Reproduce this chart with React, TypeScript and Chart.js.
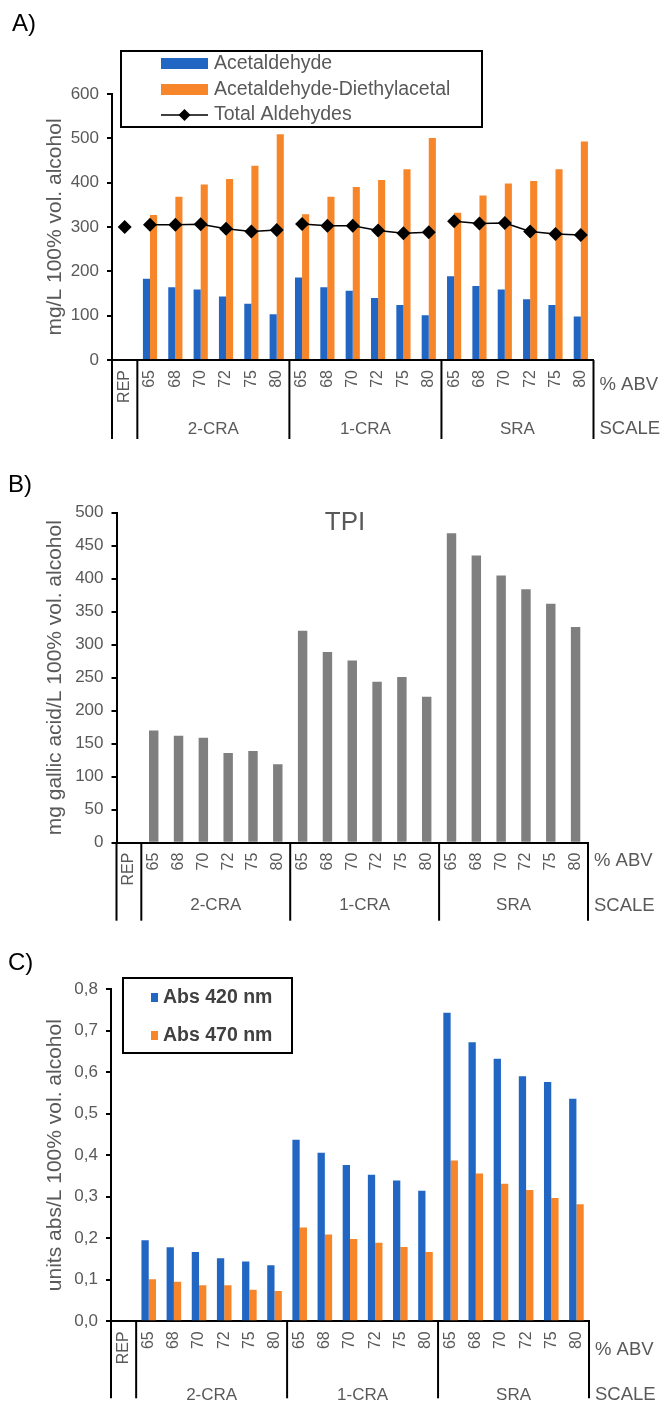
import React, { useEffect, useRef } from 'react';
import { Chart, registerables } from 'chart.js';

Chart.register(...registerables);

const FONT = '"Liberation Sans", Arial, Helvetica, sans-serif';
const GRAY = '#595959';
const BLUE = '#2266C4';
const ORANGE = '#F7862A';
const BAR_GRAY = '#7F7F7F';

// ---------- data ----------
const abvLabels = ['REP', '65', '68', '70', '72', '75', '80', '65', '68', '70', '72', '75', '80', '65', '68', '70', '72', '75', '80'];
const scaleGroups = ['2-CRA', '1-CRA', 'SRA'];
const groupEnds = [0, 6, 12]; // last category index before each group boundary
const abvTitle = '% ABV';
const scaleTitle = 'SCALE';

// A) aldehydes (mg/L 100% vol. alcohol)
const acetaldehyde = [null, 183, 164, 159, 143, 127, 103, 186, 164, 156, 140, 124, 101, 189, 167, 159, 137, 124, 98];
const diethylacetal = [null, 327, 368, 396, 408, 438, 509, 329, 368, 390, 406, 430, 501, 332, 371, 398, 404, 430, 493];
const totalAldehydes = [300, 305, 305, 306, 296, 290, 293, 307, 303, 303, 292, 286, 288, 313, 308, 309, 290, 284, 282];

// B) TPI (mg gallic acid/L 100% vol. alcohol)
const tpi = [null, 170, 162, 159, 136, 139, 119, 321, 289, 276, 244, 251, 221, 469, 435, 405, 384, 362, 327];

// C) absorbance (units abs/L 100% vol. alcohol)
const abs420 = [null, 0.195, 0.178, 0.167, 0.152, 0.144, 0.135, 0.437, 0.406, 0.376, 0.353, 0.339, 0.314, 0.743, 0.672, 0.632, 0.59, 0.576, 0.536];
const abs470 = [null, 0.101, 0.095, 0.087, 0.087, 0.076, 0.073, 0.226, 0.209, 0.198, 0.189, 0.179, 0.167, 0.387, 0.356, 0.331, 0.316, 0.297, 0.282];

const XH = 80;

type Panel = {
  canvasTop: number; height: number;
  left: number; right: number; top: number; bottom: number;
  sepLen: number; abvDy: number; scaleDy: number;
  letter: string; letterX: number; letterY: number;
};

function decorPlugin(p: Panel, extra?: (chart: any, ctx: CanvasRenderingContext2D) => void) {
  return {
    id: 'decor' + p.letter.charAt(0),
    afterDraw(chart: any) {
      const ctx: CanvasRenderingContext2D = chart.ctx;
      const xs = chart.scales.x;
      const area = chart.chartArea;
      const b = area.bottom;
      const half = (xs.getPixelForValue(1) - xs.getPixelForValue(0)) / 2;
      const seps = [area.left, ...groupEnds.map((i) => xs.getPixelForValue(i) + half), area.right];
      ctx.save();
      ctx.strokeStyle = '#000';
      ctx.lineWidth = 2;
      seps.forEach((sx) => {
        ctx.beginPath();
        ctx.moveTo(sx, b);
        ctx.lineTo(sx, b + p.sepLen);
        ctx.stroke();
      });
      ctx.fillStyle = GRAY;
      ctx.font = `17px ${FONT}`;
      ctx.textAlign = 'center';
      ctx.textBaseline = 'middle';
      scaleGroups.forEach((g, i) => ctx.fillText(g, (seps[i + 1] + seps[i + 2]) / 2, b + p.scaleDy));
      ctx.textAlign = 'left';
      ctx.font = `18.5px ${FONT}`;
      ctx.fillText(abvTitle, area.right + 6, b + p.abvDy);
      ctx.fillText(scaleTitle, area.right + 6, b + p.scaleDy);
      ctx.fillStyle = '#000';
      ctx.font = `24px ${FONT}`;
      ctx.fillText(p.letter, p.letterX, p.letterY - p.canvasTop);
      if (extra) extra(chart, ctx);
      ctx.restore();
    },
  };
}

function yAxis(p: Panel, max: number, step: number, title: string, fmt?: (v: number) => string) {
  return {
    min: 0,
    max,
    ticks: {
      stepSize: step,
      color: GRAY,
      padding: 8,
      font: { family: FONT, size: 17 },
      callback: fmt ? (v: any) => fmt(Number(v)) : undefined,
    },
    grid: { display: true, drawOnChartArea: false, drawTicks: true, tickLength: 5, tickWidth: 2, tickColor: '#000', lineWidth: 2, color: '#000' },
    border: { display: true, color: '#000', width: 2 },
    title: { display: true, text: title, color: GRAY, font: { family: FONT, size: 21 }, padding: { top: 43, bottom: 0 } },
    afterFit: (s: any) => { s.width = p.left; },
  };
}

function xAxis() {
  return {
    type: 'category',
    offset: true,
    grid: { display: false, drawTicks: false },
    border: { display: true, color: '#000', width: 2 },
    ticks: { autoSkip: false, minRotation: 90, maxRotation: 90, padding: 10, color: GRAY, font: { family: FONT, size: 16 } },
    afterFit: (s: any) => { s.height = XH; },
  };
}

function layout(p: Panel) {
  return {
    padding: {
      left: 0,
      right: 664 - p.right,
      top: p.top - p.canvasTop,
      bottom: p.canvasTop + p.height - p.bottom - XH,
    },
  };
}

const panelA: Panel = { canvasTop: 0, height: 445, left: 112, right: 593.5, top: 94, bottom: 360, sepLen: 79, abvDy: 25, scaleDy: 69, letter: 'A)', letterX: 12, letterY: 24 };
const panelB: Panel = { canvasTop: 445, height: 490, left: 116.5, right: 588, top: 512.7, bottom: 842.7, sepLen: 78, abvDy: 18, scaleDy: 63, letter: 'B)', letterX: 8, letterY: 485 };
const panelC: Panel = { canvasTop: 935, height: 470, left: 111, right: 589, top: 989, bottom: 1321.3, sepLen: 77, abvDy: 29, scaleDy: 74, letter: 'C)', letterX: 8, letterY: 963 };

function configA(): any {
  const p = panelA;
  return {
    type: 'bar',
    data: {
      labels: abvLabels,
      datasets: [
        {
          type: 'line', label: 'Total Aldehydes', data: totalAldehydes, order: 0,
          borderColor: '#000', borderWidth: 1.5, backgroundColor: '#000',
          pointStyle: 'rectRot', pointRadius: 7, pointBorderWidth: 0, pointBackgroundColor: '#000',
          segment: { borderColor: (c: any) => (groupEnds.includes(c.p0DataIndex) ? 'rgba(0,0,0,0)' : '#000') },
        },
        { label: 'Acetaldehyde', data: acetaldehyde, backgroundColor: BLUE, order: 1, categoryPercentage: 0.56, barPercentage: 1 },
        { label: 'Acetaldehyde-Diethylacetal', data: diethylacetal, backgroundColor: ORANGE, order: 1, categoryPercentage: 0.56, barPercentage: 1 },
      ],
    },
    options: {
      responsive: false,
      animation: false,
      layout: layout(p),
      plugins: { legend: { display: false }, tooltip: { enabled: false } },
      scales: { x: xAxis(), y: yAxis(p, 600, 100, 'mg/L 100% vol. alcohol') },
    },
    plugins: [
      decorPlugin(p, (chart, ctx) => {
        const ds = chart.data.datasets;
        ctx.fillStyle = '#fff';
        ctx.fillRect(121, 51, 361, 76);
        ctx.strokeStyle = '#000';
        ctx.lineWidth = 2;
        ctx.strokeRect(121, 51, 361, 76);
        ctx.font = `19.5px ${FONT}`;
        ctx.textAlign = 'left';
        ctx.textBaseline = 'middle';
        ctx.fillStyle = ds[1].backgroundColor;
        ctx.fillRect(161, 58, 47, 11);
        ctx.fillStyle = ds[2].backgroundColor;
        ctx.fillRect(161, 84, 47, 11);
        ctx.strokeStyle = '#000';
        ctx.lineWidth = 1.5;
        ctx.beginPath();
        ctx.moveTo(161, 115);
        ctx.lineTo(208, 115);
        ctx.stroke();
        ctx.fillStyle = '#000';
        ctx.beginPath();
        ctx.moveTo(184.5, 109);
        ctx.lineTo(190.5, 115);
        ctx.lineTo(184.5, 121);
        ctx.lineTo(178.5, 115);
        ctx.closePath();
        ctx.fill();
        ctx.fillStyle = GRAY;
        ctx.fillText(ds[1].label, 214, 64);
        ctx.fillText(ds[2].label, 214, 89.5);
        ctx.fillText(ds[0].label, 214, 115);
      }),
    ],
  };
}

function configB(): any {
  const p = panelB;
  return {
    type: 'bar',
    data: {
      labels: abvLabels,
      datasets: [{ label: 'TPI', data: tpi, backgroundColor: BAR_GRAY, categoryPercentage: 0.38, barPercentage: 1 }],
    },
    options: {
      responsive: false,
      animation: false,
      layout: layout(p),
      plugins: { legend: { display: false }, tooltip: { enabled: false } },
      scales: { x: xAxis(), y: yAxis(p, 500, 50, 'mg gallic acid/L 100% vol. alcohol') },
    },
    plugins: [
      decorPlugin(p, (chart, ctx) => {
        ctx.fillStyle = GRAY;
        ctx.font = `26px ${FONT}`;
        ctx.textAlign = 'center';
        ctx.textBaseline = 'middle';
        ctx.fillText(chart.data.datasets[0].label, 345, 523 - p.canvasTop);
      }),
    ],
  };
}

function configC(): any {
  const p = panelC;
  return {
    type: 'bar',
    data: {
      labels: abvLabels,
      datasets: [
        { label: 'Abs 420 nm', data: abs420, backgroundColor: BLUE, categoryPercentage: 0.58, barPercentage: 1 },
        { label: 'Abs 470 nm', data: abs470, backgroundColor: ORANGE, categoryPercentage: 0.58, barPercentage: 1 },
      ],
    },
    options: {
      responsive: false,
      animation: false,
      layout: layout(p),
      plugins: { legend: { display: false }, tooltip: { enabled: false } },
      scales: {
        x: xAxis(),
        y: yAxis(p, 0.8, 0.1, 'units abs/L 100% vol. alcohol', (v) => v.toFixed(1).replace('.', ',')),
      },
    },
    plugins: [
      decorPlugin(p, (chart, ctx) => {
        const ds = chart.data.datasets;
        const t = p.canvasTop;
        ctx.fillStyle = '#fff';
        ctx.fillRect(123, 978 - t, 169, 75);
        ctx.strokeStyle = '#000';
        ctx.lineWidth = 2;
        ctx.strokeRect(123, 978 - t, 169, 75);
        ctx.font = `bold 19.5px ${FONT}`;
        ctx.textAlign = 'left';
        ctx.textBaseline = 'middle';
        ctx.fillStyle = ds[0].backgroundColor;
        ctx.fillRect(151, 993 - t, 7, 9);
        ctx.fillStyle = ds[1].backgroundColor;
        ctx.fillRect(151, 1031 - t, 7, 9);
        ctx.fillStyle = '#404040';
        ctx.fillText(ds[0].label, 163, 997.5 - t);
        ctx.fillText(ds[1].label, 163, 1035.5 - t);
      }),
    ],
  };
}

function ChartCanvas({ make, top, height }: { make: () => any; top: number; height: number }) {
  const ref = useRef<HTMLCanvasElement>(null);
  useEffect(() => {
    const chart = new Chart(ref.current as HTMLCanvasElement, make());
    return () => chart.destroy();
  }, []);
  return (
    <canvas
      ref={ref}
      width={664}
      height={height}
      style={{ position: 'absolute', left: 0, top, width: 664, height, display: 'block' }}
    />
  );
}

export default function App() {
  return (
    <div style={{ position: 'absolute', left: 0, top: 0, width: 664, height: 1405, background: '#fff' }}>
      <ChartCanvas make={configA} top={panelA.canvasTop} height={panelA.height} />
      <ChartCanvas make={configB} top={panelB.canvasTop} height={panelB.height} />
      <ChartCanvas make={configC} top={panelC.canvasTop} height={panelC.height} />
    </div>
  );
}
